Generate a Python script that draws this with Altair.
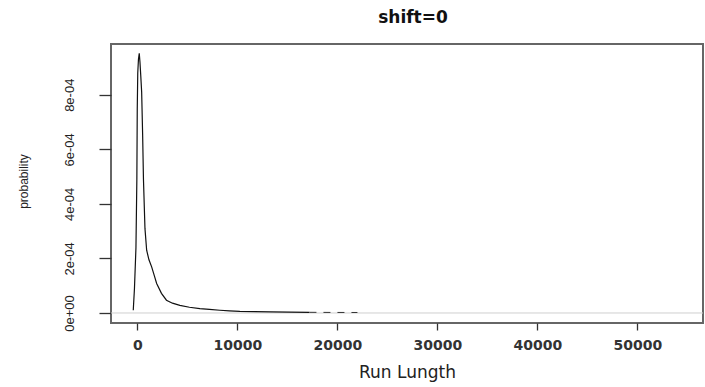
import altair as alt
import pandas as pd

# Run length (x) and probability (y)
run_length = [-420, -300, -150, -60, -20, 30, 100, 180, 250, 330, 420, 520, 600, 750,
              920, 1150, 1420, 1700, 1920, 2400, 2900, 3500, 4240, 5200, 6240, 7200,
              8240, 9200, 10240, 11700, 13300, 15200, 17200]
probability = [0.1e-4, 0.9e-4, 2.4e-4, 4.9e-4, 7.5e-4, 8.8e-4, 9.3e-4, 9.52e-4, 9.2e-4,
               8.7e-4, 8.1e-4, 6.5e-4, 4.9e-4, 3.1e-4, 2.3e-4, 1.95e-4, 1.69e-4, 1.35e-4,
               1.08e-4, 0.72e-4, 0.47e-4, 0.36e-4, 0.28e-4, 0.21e-4, 0.16e-4, 0.13e-4,
               0.1e-4, 0.08e-4, 0.06e-4, 0.05e-4, 0.04e-4, 0.03e-4, 0.025e-4]
# faint, broken tail of the curve
tail_run_length = [17200, 19500, 22000]
tail_probability = [0.025e-4, 0.02e-4, 0.018e-4]

x_ticks = [0, 10000, 20000, 30000, 40000, 50000]
y_ticks = [0, 2e-4, 4e-4, 6e-4, 8e-4]
y_tick_labels = ["0e+00", "2e-04", "4e-04", "6e-04", "8e-04"]

main = pd.DataFrame({"x": run_length, "y": probability})
tail = pd.DataFrame({"x": tail_run_length, "y": tail_probability})

label_expr = " : ".join(
    f"abs(datum.value - {v}) < 1e-9 ? '{l}'" for v, l in zip(y_ticks, y_tick_labels)
) + " : ''"

xscale = alt.Scale(domain=[-2646, 56560], nice=False, zero=False)
yscale = alt.Scale(domain=[-0.0367e-3, 0.986e-3], nice=False, zero=False)

xaxis = alt.Axis(
    values=x_ticks, format="d", title="Run Lungth", grid=False, domain=False,
    tickSize=7, tickColor="#333", tickWidth=1.3,
    labelFont="DejaVu Sans", labelFontSize=14, labelFontWeight="bold",
    labelColor="#333",
    labelBaseline="alphabetic", labelPadding=19, labelFlush=False,
    titleFont="DejaVu Sans", titleFontSize=17, titleFontWeight="normal",
    titleColor="#222", titleBaseline="alphabetic", titleY=54,
)
yaxis = alt.Axis(
    values=y_ticks, labelExpr=label_expr, title="probability", grid=False,
    domain=False, tickSize=12, tickColor="#333", tickWidth=1.3,
    labelFont="Liberation Sans", labelFontSize=13, labelColor="#222",
    labelAngle=270, labelAlign="center", labelBaseline="middle",
    labelPadding=30, labelFlush=False,
    titleFont="Liberation Sans", titleFontSize=12, titleFontWeight="normal",
    titleColor="#222", titleAngle=270, titleAlign="center",
    titleBaseline="middle", titleX=-88, titleY=137,
)

zero = alt.Chart(pd.DataFrame({"z": [0]})).mark_rule(
    color="#cfcfcf", strokeWidth=1
).encode(y=alt.Y("z:Q", scale=yscale, axis=yaxis))

line = alt.Chart(main).mark_line(color="#111", strokeWidth=1.2).encode(
    x=alt.X("x:Q", scale=xscale, axis=xaxis),
    y=alt.Y("y:Q", scale=yscale, axis=yaxis),
    order="x:Q",
)
tail_line = alt.Chart(tail).mark_line(
    color="#333", strokeWidth=1, strokeDash=[7, 7]
).encode(
    x=alt.X("x:Q", scale=xscale, axis=xaxis),
    y=alt.Y("y:Q", scale=yscale, axis=yaxis),
)

chart = alt.layer(zero, line, tail_line).properties(
    width=592, height=279,
    title=alt.TitleParams(
        "shift=0", font="DejaVu Sans", fontSize=17, fontWeight="bold",
        color="#111", anchor="middle", baseline="alphabetic", offset=4, dx=6,
    ),
    view=alt.ViewBackground(stroke="#666666", strokeWidth=2),
    autosize=alt.AutoSizeParams(type="none"),
    padding={"left": 111, "top": 44, "right": 2, "bottom": 64},
).configure(background="white")

chart.save("out.html", embed_options={"renderer": "svg", "actions": False})
